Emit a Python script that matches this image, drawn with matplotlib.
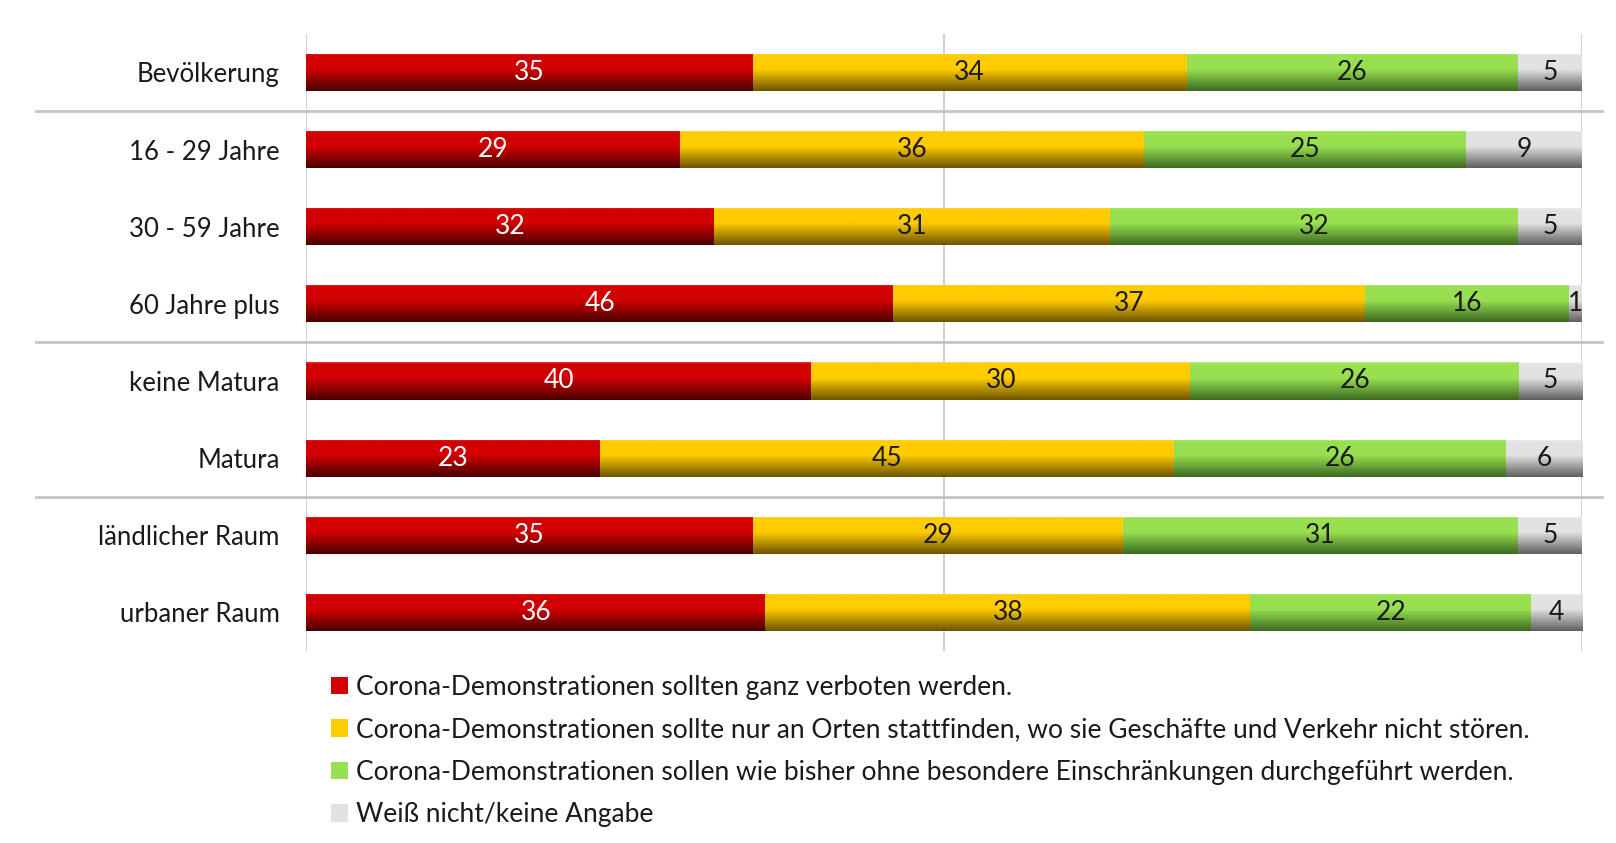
import numpy as np
import matplotlib
matplotlib.use("Agg")
import matplotlib.pyplot as plt
from matplotlib.patches import Patch
from matplotlib.colors import LinearSegmentedColormap
import matplotlib.transforms as mtransforms

plt.rcParams['font.family'] = ['Lato', 'DejaVu Sans']

categories = ["Bevölkerung", "16 - 29 Jahre", "30 - 59 Jahre", "60 Jahre plus",
              "keine Matura", "Matura", "ländlicher Raum", "urbaner Raum"]
verboten = [35, 29, 32, 46, 40, 23, 35, 36]
nur_orte = [34, 36, 31, 37, 30, 45, 29, 38]
wie_bisher = [26, 25, 32, 16, 26, 26, 31, 22]
weiss_nicht = [5, 9, 5, 1, 5, 6, 5, 4]

series_labels = [
    "Corona-Demonstrationen sollten ganz verboten werden.",
    "Corona-Demonstrationen sollte nur an Orten stattfinden, wo sie Geschäfte und Verkehr nicht stören.",
    "Corona-Demonstrationen sollen wie bisher ohne besondere Einschränkungen durchgeführt werden.",
    "Weiß nicht/keine Angabe",
]
group_separators = [0.5, 3.5, 5.5]

series = [verboten, nur_orte, wie_bisher, weiss_nicht]
base_colors = ["#d20000", "#ffcc00", "#99e050", "#e2e2e2"]
dark_colors = ["#4a0000", "#6e5400", "#3c6a22", "#606060"]
light_colors = ["#e23030", "#ffd84a", "#b0ec78", "#f4f4f4"]
text_colors = ["white", "#1a1a1a", "#1a1a1a", "#1a1a1a"]

# bars are drawn as shares of each row total (rows sum to 100 %)
totals = np.sum(np.array(series, dtype=float), axis=0)

fig = plt.figure(figsize=(16.16, 8.43), dpi=100)
ax = fig.add_axes([0.1894, 0.2278, 0.7896, 0.732])

y = np.arange(len(categories))
bar_h = 0.48
left = np.zeros(len(categories))

grad = np.linspace(0, 1, 64).reshape(-1, 1)
for vals, base, dark, light, tc in zip(series, base_colors, dark_colors, light_colors, text_colors):
    vals = np.array(vals, dtype=float)
    shares = vals / totals * 100
    bars = ax.barh(y, shares, left=left, height=bar_h, color=base, edgecolor="none", zorder=2)
    cmap = LinearSegmentedColormap.from_list(
        "g", [(0, light), (0.06, base), (0.42, base), (1.0, dark)])
    for b in bars:
        x0, y0 = b.get_x(), b.get_y()
        w, h = b.get_width(), b.get_height()
        im = ax.imshow(grad, cmap=cmap, aspect="auto",
                       extent=(x0, x0 + w, y0 + h, y0), origin="upper",
                       zorder=3, interpolation="bilinear")
        im.set_clip_path(b)
    for yi, l, s, v in zip(y, left, shares, vals):
        ax.text(l + s / 2, yi, f"{int(v)}", ha="center", va="center",
                color=tc, fontsize=19, zorder=5)
    left = left + shares

ax.set_xlim(0, 100)
ax.set_ylim(len(categories) - 0.5, -0.5)
ax.set_yticks(y)
ax.set_yticklabels(categories, fontsize=18.5, color="#1a1a1a")
ax.tick_params(axis="y", length=0, pad=19)
ax.set_xticks([])
for s in ax.spines.values():
    s.set_visible(False)

for xv in [0, 50, 100]:
    ax.axvline(xv, color="#c8c8c8", lw=1.2, zorder=1)

trans = mtransforms.blended_transform_factory(ax.transAxes, ax.transData)
for sy in group_separators:
    ax.plot([-0.2116, 1.0157], [sy, sy], transform=trans, color="#c4c4c4",
            lw=2, clip_on=False, zorder=1)

handles = [Patch(facecolor=c, edgecolor="none") for c in base_colors]
fig.legend(handles, series_labels, loc="upper left",
           bbox_to_anchor=(0.198, 0.212), frameon=False, fontsize=19,
           handlelength=0.65, handleheight=0.65, handletextpad=0.3,
           labelspacing=0.66, borderaxespad=0, labelcolor="#1a1a1a")

fig.savefig("out.png", dpi=100, facecolor="white")
